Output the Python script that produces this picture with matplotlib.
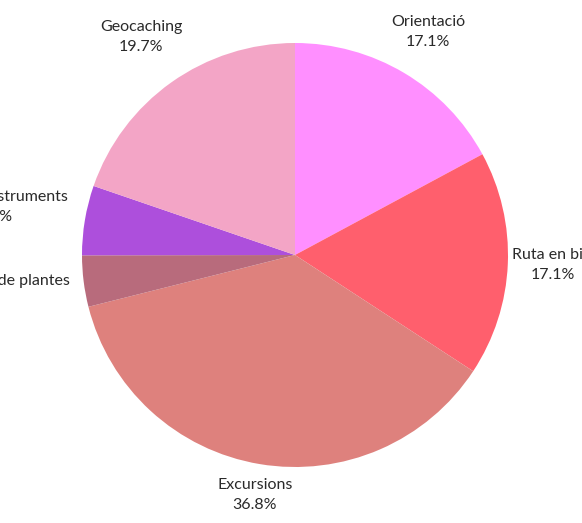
import matplotlib
matplotlib.use("Agg")
import matplotlib.pyplot as plt

# activitats i percentatge de participants
activitats = ["Orientació", "Ruta en bici", "Excursions",
              "Reconeixement de plantes", "Tallers d'instruments", "Geocaching"]
percentatges = [17.1, 17.1, 36.8, 3.9, 5.3, 19.7]
colors = ["#ff8fff", "#ff5f6d", "#de817d", "#b86b7c", "#ad4fdc", "#f3a5c6"]

# centre de cada etiqueta (unitats del radi)
pos_etiquetes = [(0.624, 1.052), (1.21, -0.047), (-0.188, -1.131),
                 (-1.49, -0.169), (-1.41, 0.225), (-0.723, 1.028)]

plt.rcParams["font.family"] = ["Lato", "DejaVu Sans"]

fig = plt.figure(figsize=(5.82, 5.23), dpi=100)
ax = fig.add_axes([82 / 582, 56 / 523, 426 / 582, 424 / 523])
ax.pie(percentatges, colors=colors, startangle=90, counterclock=False,
       radius=1.0, wedgeprops=dict(linewidth=0))
ax.set_xlim(-1, 1)
ax.set_ylim(-1, 1)
ax.set_aspect("auto")
ax.axis("off")

for nom, pct, (x, y) in zip(activitats, percentatges, pos_etiquetes):
    ax.text(x, y, f"{nom}\n{pct}%", ha="center", va="center",
            multialignment="center", fontsize=11.5, color="#2a2a2a",
            linespacing=1.55, clip_on=False)

fig.savefig("out.png", dpi=100)
